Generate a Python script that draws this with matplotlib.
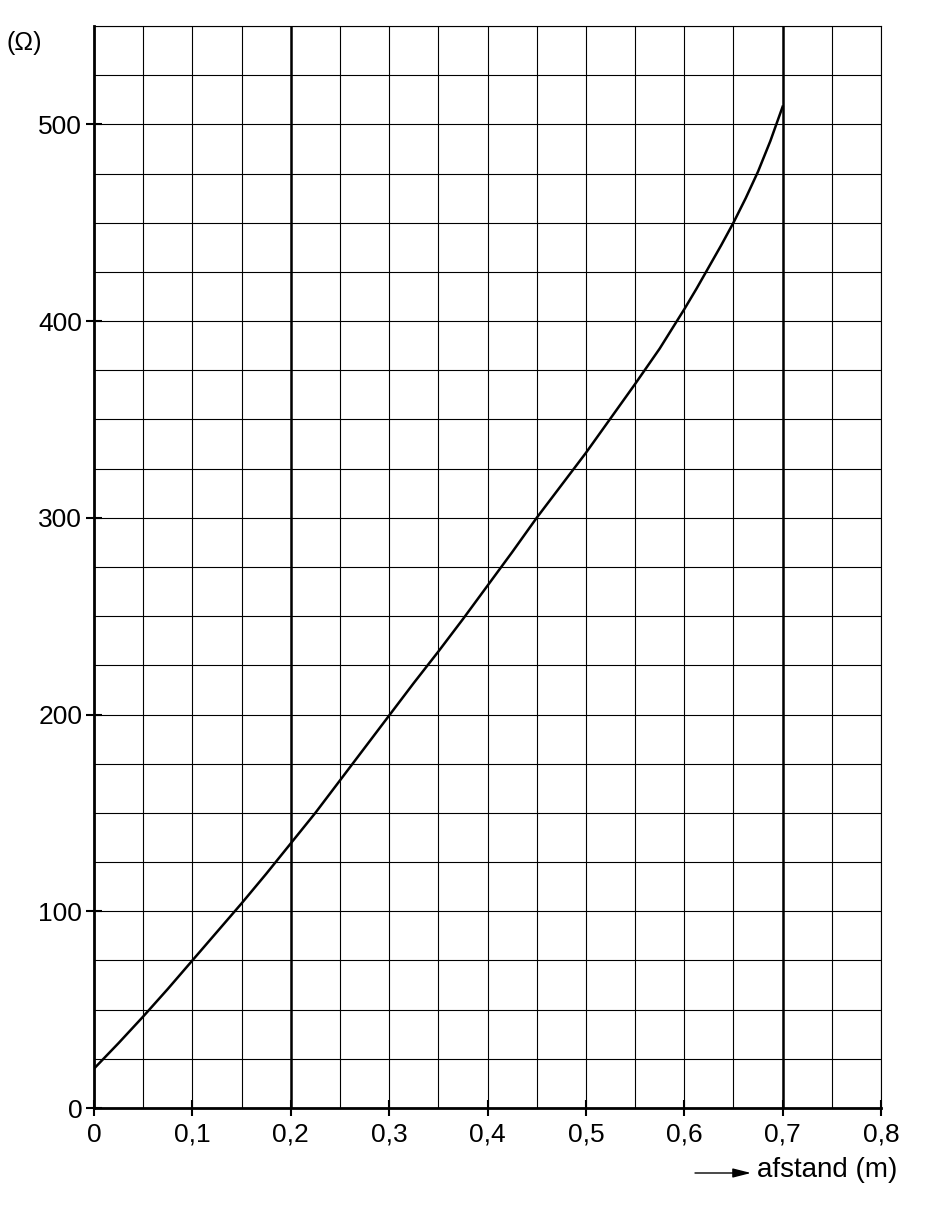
import numpy as np
import matplotlib
matplotlib.use("Agg")
import matplotlib.pyplot as plt
from matplotlib.ticker import MultipleLocator, FuncFormatter

# Weerstand als functie van de afstand
afstand = [0.0, 0.025, 0.05, 0.075, 0.1, 0.125, 0.15, 0.175, 0.2, 0.225,
           0.25, 0.275, 0.3, 0.325, 0.35, 0.375, 0.4, 0.425, 0.45, 0.475,
           0.5, 0.525, 0.55, 0.575, 0.6, 0.6125, 0.625, 0.6375, 0.65,
           0.6625, 0.675, 0.6875, 0.7]
weerstand = [20, 33, 46.5, 60.5, 75, 89.5, 104, 119, 134.5, 150,
             166.5, 183, 199.5, 216, 232, 248.5, 265.5, 282.5, 300, 316.5,
             333, 350.5, 368, 386, 406, 416.5, 427.5, 438.5, 450,
             462.5, 476, 491.5, 509]

x_ticks = [0, 0.1, 0.2, 0.3, 0.4, 0.5, 0.6, 0.7, 0.8]
y_ticks = [0, 100, 200, 300, 400, 500]
dikke_lijnen = [0.2, 0.7]

plt.rcParams['font.family'] = ['Liberation Sans', 'DejaVu Sans']

fig = plt.figure(figsize=(9.31, 12.09), dpi=100)
ax = fig.add_axes([94 / 931, 101 / 1209, 787 / 931, 1082 / 1209])

ax.set_xlim(0, 0.8)
ax.set_ylim(0, 550)

ax.xaxis.set_major_locator(plt.FixedLocator(x_ticks))
ax.yaxis.set_major_locator(plt.FixedLocator(y_ticks))
ax.xaxis.set_minor_locator(MultipleLocator(0.05))
ax.yaxis.set_minor_locator(MultipleLocator(25))

komma = FuncFormatter(lambda v, pos: "0" if v == 0 else f"{v:.1f}".replace(".", ","))
ax.xaxis.set_major_formatter(komma)

ax.grid(True, which="both", color="black", linewidth=0.8)
for xv in dikke_lijnen:
    ax.axvline(xv, color="black", linewidth=1.8)

ax.tick_params(which="major", direction="inout", length=11, width=1.5,
               labelsize=19, color="black")
ax.tick_params(axis="x", which="major", pad=5)
ax.tick_params(axis="y", which="major", pad=3)
ax.tick_params(which="minor", length=0)

for kant in ["left", "bottom"]:
    ax.spines[kant].set_linewidth(2.0)
for kant in ["top", "right"]:
    ax.spines[kant].set_linewidth(0.8)

ax.plot(afstand, weerstand, color="black", linewidth=1.8, zorder=5,
        solid_joinstyle="round")

fig.text(7 / 931, 1 - 43 / 1209, "(Ω)", fontsize=18, va="center", ha="left")
fig.text(757 / 931, 1 - 1170 / 1209, "afstand (m)", fontsize=20, va="center", ha="left")
fig.add_artist(matplotlib.patches.FancyArrowPatch(
    (695 / 931, 1 - 1173 / 1209), (751 / 931, 1 - 1173 / 1209),
    transform=fig.transFigure, arrowstyle="-|>,head_length=11,head_width=2.8",
    color="black", linewidth=1.0, mutation_scale=1, shrinkA=0, shrinkB=0))

fig.savefig("out.png", dpi=100)
